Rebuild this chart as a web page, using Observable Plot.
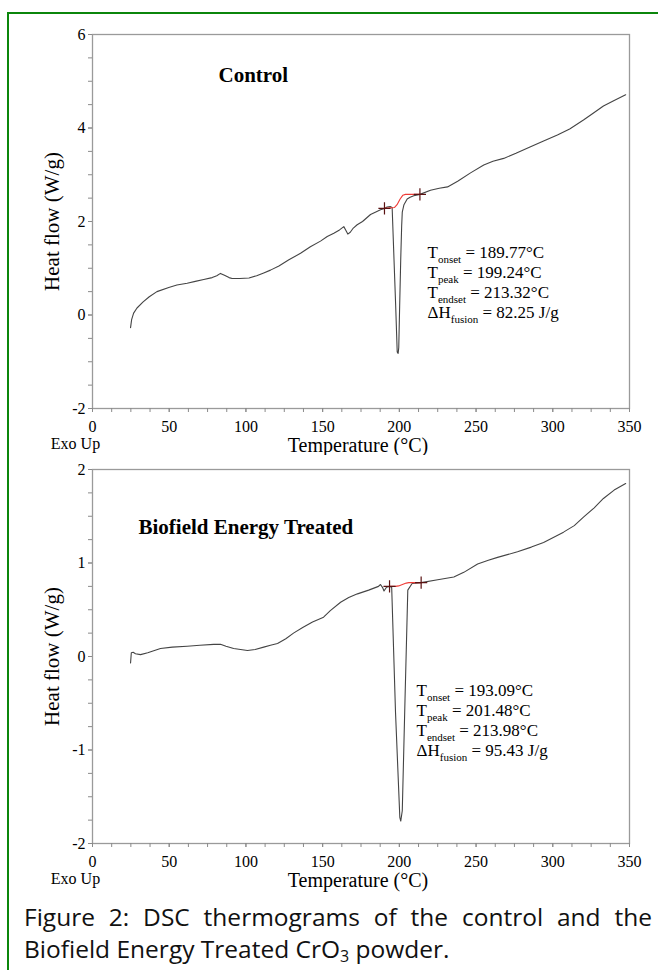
<!DOCTYPE html>
<html>
<head>
<meta charset="utf-8">
<script src="https://cdn.jsdelivr.net/npm/d3@7"></script>
<script src="https://cdn.jsdelivr.net/npm/@observablehq/plot@0.6"></script>
<style>
html, body { margin: 0; padding: 0; background: #fff; }
#page { position: relative; width: 658px; height: 970px; overflow: hidden; background: #fff; }
#border { position: absolute; left: 7px; top: 12px; width: 720px; height: 1000px;
  border-left: 2px solid #0b860b; border-top: 2px solid #0b860b; box-sizing: border-box; }
.chart { position: absolute; left: 0; }
#chart1 { top: 0; }
#chart2 { top: 455px; }
#caption { position: absolute; left: 24px; width: 628px; top: 901px;
  font-family: "Open Sans", "Noto Sans", sans-serif; font-size: 24.5px; line-height: 32px; color: #111; }
#caption .l1 { text-align: justify; text-align-last: justify; }
#caption sub { font-size: 16px; vertical-align: -4px; line-height: 0; }
</style>
</head>
<body>
<div id="page">
  <div id="border"></div>
  <div id="chart1" class="chart"></div>
  <div id="chart2" class="chart"></div>
  <div id="caption">
    <div class="l1">Figure 2: DSC thermograms of the control and the</div>
    <div>Biofield Energy Treated CrO<sub>3</sub> powder.</div>
  </div>
</div>
<script>
// ---------- axis ticks ----------
const xTicks = [0, 50, 100, 150, 200, 250, 300, 350];
const xMinorTicks = [0, 12.5, 25, 37.5, 50, 62.5, 75, 87.5, 100, 112.5, 125, 137.5, 150, 162.5, 175, 187.5,
  200, 212.5, 225, 237.5, 250, 262.5, 275, 287.5, 300, 312.5, 325, 337.5, 350];
const yTicksControl = [-2, 0, 2, 4, 6];
const yMinorControl = [-2, -1.5, -1, -0.5, 0, 0.5, 1, 1.5, 2, 2.5, 3, 3.5, 4, 4.5, 5, 5.5, 6];
const yTicksTreated = [-2, -1, 0, 1, 2];
const yMinorTreated = [-2, -1.75, -1.5, -1.25, -1, -0.75, -0.5, -0.25, 0, 0.25, 0.5, 0.75, 1, 1.25, 1.5, 1.75, 2];

// ---------- labels ----------
const xLabel = "Temperature (°C)";
const yLabel = "Heat flow (W/g)";
const exoLabel = "Exo Up";
const controlTitle = "Control";
const treatedTitle = "Biofield Energy Treated";
const controlNotes = ["T_{onset} = 189.77°C", "T_{peak} = 199.24°C", "T_{endset} = 213.32°C", "ΔH_{fusion} = 82.25 J/g"];
const treatedNotes = ["T_{onset} = 193.09°C", "T_{peak} = 201.48°C", "T_{endset} = 213.98°C", "ΔH_{fusion} = 95.43 J/g"];

// ---------- control thermogram ----------
const controlT = [24.8, 25.5, 26.8, 29, 33, 37, 42, 49.7, 55, 61.7, 67, 72.5, 78, 81, 83.4, 86, 89, 91, 96, 102,
  107, 111.6, 116, 121.5, 128, 135.6, 142, 148.6, 153, 157.3, 161, 163.8, 165, 166.4, 168, 170, 172.5, 176,
  181.2, 185, 187.7, 190.3, 192, 194, 195.3, 196.5, 197.6, 198.6, 199.2, 199.6, 200.2, 200.9, 201.5, 201.9,
  203, 205.1, 207, 209.4, 213.4, 220.3, 226, 231.4, 238, 246.4, 255, 261, 268, 276, 285.5, 294, 303, 311,
  320, 327, 333, 340, 347.5];
const controlHF = [-0.27, -0.10, 0.04, 0.15, 0.28, 0.39, 0.50, 0.59, 0.64, 0.68, 0.72, 0.76, 0.80, 0.84, 0.89, 0.85, 0.80, 0.78, 0.78, 0.79,
  0.84, 0.90, 0.96, 1.05, 1.18, 1.32, 1.46, 1.58, 1.68, 1.75, 1.82, 1.89, 1.82, 1.73, 1.77, 1.86, 1.93, 2.00,
  2.15, 2.21, 2.25, 2.28, 2.31, 2.32, 2.30, 1.20, 0.20, -0.79, -0.82, -0.70, 0.20, 1.20, 1.90, 2.20,
  2.36, 2.48, 2.52, 2.55, 2.58, 2.67, 2.71, 2.74, 2.86, 3.04, 3.21, 3.29, 3.35, 3.46, 3.60, 3.72, 3.85, 3.98,
  4.17, 4.33, 4.47, 4.59, 4.71];
const controlBaseT = [190.3, 196.9, 198.5, 200.5, 202.2, 204, 213.4];
const controlBaseHF = [2.28, 2.30, 2.36, 2.48, 2.56, 2.58, 2.58];
const controlMarkT = [190.3, 213.4];
const controlMarkHF = [2.28, 2.58];

// ---------- biofield energy treated thermogram ----------
const treatedT = [24.8, 25.3, 26.5, 28, 31.3, 36, 44.3, 52, 61.7, 70, 79, 83.4, 87, 92, 101, 106, 111.6, 116,
  120.6, 126, 131, 137, 143.4, 150.6, 155, 161.7, 167, 172.7, 180, 186.4, 187.7, 189, 190, 191.6, 193.6, 195,
  197.5, 200.3, 200.9, 201.9, 203.7, 205.5, 208.3, 214.2, 225, 235.5, 242, 251, 258, 264, 277, 286, 294, 307,
  314, 320, 327, 333, 340, 347.5];
const treatedHF = [-0.07, 0.04, 0.045, 0.03, 0.02, 0.04, 0.085, 0.10, 0.11, 0.12, 0.13, 0.13, 0.11, 0.085, 0.065, 0.075, 0.10, 0.12,
  0.14, 0.19, 0.25, 0.31, 0.37, 0.42, 0.49, 0.58, 0.63, 0.67, 0.71, 0.75, 0.77, 0.74, 0.70, 0.74, 0.75, 0.74,
  -0.60, -1.72, -1.76, -1.65, -0.45, 0.71, 0.78, 0.79, 0.82, 0.85, 0.90, 0.99, 1.03, 1.06, 1.12, 1.17, 1.22, 1.33,
  1.40, 1.49, 1.59, 1.69, 1.78, 1.85];
const treatedBaseT = [193.6, 197.5, 199.5, 202, 204.5, 206.2, 214.2];
const treatedBaseHF = [0.75, 0.75, 0.755, 0.77, 0.785, 0.79, 0.79];
const treatedMarkT = [193.6, 214.2];
const treatedMarkHF = [0.75, 0.79];

const zip = (a, b) => a.map((t, i) => ({t, hf: b[i]}));
const fmt = d => `${d}`;

function subscripts(svg, size) {
  d3.select(svg).selectAll("text").each(function () {
    const s = this.textContent;
    if (!s.includes("_{")) return;
    const parts = s.split(/_\{([^}]*)\}/);
    this.textContent = "";
    const sel = d3.select(this);
    const shift = Math.round(size * 0.28);
    parts.forEach((p, i) => {
      if (!p) return;
      const ts = sel.append("tspan").text(p);
      if (i % 2 === 1) ts.attr("font-size", Math.round(size * 0.66)).attr("dy", shift);
      else if (i > 0) ts.attr("dy", -shift);
    });
  });
}

function dsc(o) {
  const txt = (arr, opts) => Plot.text(arr, {text: d => d, lineAnchor: "middle", ...opts});
  const svg = Plot.plot({
    width: 658,
    height: o.height,
    marginLeft: 92,
    marginRight: 29,
    marginTop: o.marginTop,
    marginBottom: o.marginBottom,
    style: {fontFamily: "'Liberation Serif', 'Times New Roman', serif", fontSize: "16px", color: "#000", background: "transparent"},
    x: {domain: [0, 350], label: null},
    y: {domain: o.yDomain, label: null},
    marks: [
      Plot.frame({stroke: "#9a9a9a", strokeWidth: 1.3}),
      Plot.axisX({ticks: xMinorTicks, tickSize: 4, tickFormat: () => "", stroke: "#8a8a8a", label: null}),
      Plot.axisX({ticks: xTicks, tickSize: 4, tickPadding: 8, tickFormat: fmt, stroke: "#8a8a8a", fontSize: 16, label: null}),
      Plot.axisY({ticks: o.yMinor, tickSize: 4, tickFormat: () => "", stroke: "#8a8a8a", label: null}),
      Plot.axisY({ticks: o.yTicks, tickSize: 4, tickPadding: 3, tickFormat: fmt, stroke: "#8a8a8a", fontSize: 16, label: null}),
      Plot.line(zip(o.T, o.HF), {x: "t", y: "hf", stroke: "#444", strokeWidth: 1.1}),
      Plot.line(zip(o.baseT, o.baseHF), {x: "t", y: "hf", stroke: "#ee3b36", strokeWidth: 1.1}),
      Plot.dot(zip(o.markT, o.markHF), {x: "t", y: "hf", symbol: "plus", r: 4, stroke: "#5a1212", strokeWidth: 1.2}),
      txt([o.title], {frameAnchor: "top-left", dx: o.titleDx, dy: o.titleDy, textAnchor: "start", fontWeight: "bold", fontSize: 21}),
      ...o.notes.map((n, i) => txt([n], {frameAnchor: "top-left", dx: o.notesDx, dy: o.notesDy + i * 20, textAnchor: "start", fontSize: 17})),
      txt([xLabel], {frameAnchor: "bottom", dx: -3, dy: 37, textAnchor: "middle", fontSize: 20}),
      txt([yLabel], {frameAnchor: "left", dx: -40, rotate: -90, textAnchor: "middle", fontSize: 21}),
      txt([exoLabel], {frameAnchor: "bottom-left", dx: -17, dy: 35, textAnchor: "middle", fontSize: 16})
    ]
  });
  subscripts(svg, 17);
  return svg;
}

document.getElementById("chart1").append(dsc({
  height: 455, marginTop: 34, marginBottom: 47, yDomain: [-2, 6],
  yTicks: yTicksControl, yMinor: yMinorControl,
  T: controlT, HF: controlHF, baseT: controlBaseT, baseHF: controlBaseHF, markT: controlMarkT, markHF: controlMarkHF,
  title: controlTitle, titleDx: 126, titleDy: 41,
  notes: controlNotes, notesDx: 335, notesDy: 218
}));

document.getElementById("chart2").append(dsc({
  height: 440, marginTop: 14, marginBottom: 52, yDomain: [-2, 2],
  yTicks: yTicksTreated, yMinor: yMinorTreated,
  T: treatedT, HF: treatedHF, baseT: treatedBaseT, baseHF: treatedBaseHF, markT: treatedMarkT, markHF: treatedMarkHF,
  title: treatedTitle, titleDx: 46, titleDy: 58,
  notes: treatedNotes, notesDx: 324, notesDy: 221
}));
</script>
</body>
</html>
